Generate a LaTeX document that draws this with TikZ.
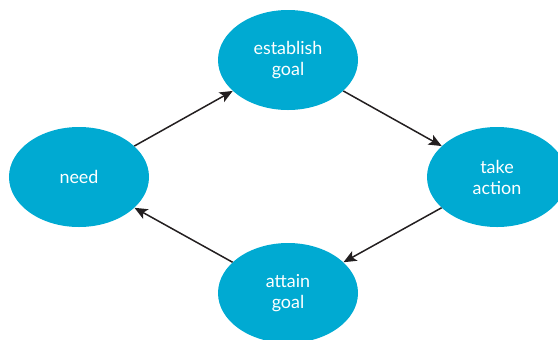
\documentclass[tikz,border=0pt]{standalone}
\usepackage{fontspec}
\setmainfont{Lato}
\usetikzlibrary{shapes.geometric,arrows.meta}
\definecolor{stagefill}{RGB}{0,170,210}
\definecolor{arrowink}{RGB}{35,31,32}
\tikzset{
  stage/.style={ellipse, fill=stagefill, draw=none, minimum width=140bp,
    minimum height=100bp, inner sep=0pt, text=white, align=center,
    font=\fontsize{18}{21}\selectfont},
  flow/.style={draw=arrowink, line width=1.5bp,
    -{Stealth[length=13bp,width=11bp,inset=3bp]}}
}
\begin{document}
\begin{tikzpicture}[x=1bp,y=-1bp]
  \useasboundingbox (0,0) rectangle (558,339);
  \clip (0,0) rectangle (558,339);
  \node[stage] (need) at (79,177) {need};
  \node[stage] (goal) at (288,60) {establish\\goal};
  \node[stage] (act) at (497,177) {take\\action};
  \node[stage] (attain) at (288,293) {attain\\goal};
  \draw[flow] (need) -- (goal);
  \draw[flow] (goal) -- (act);
  \draw[flow] (act) -- (attain);
  \draw[flow] (attain) -- (need);
\end{tikzpicture}
\end{document}
